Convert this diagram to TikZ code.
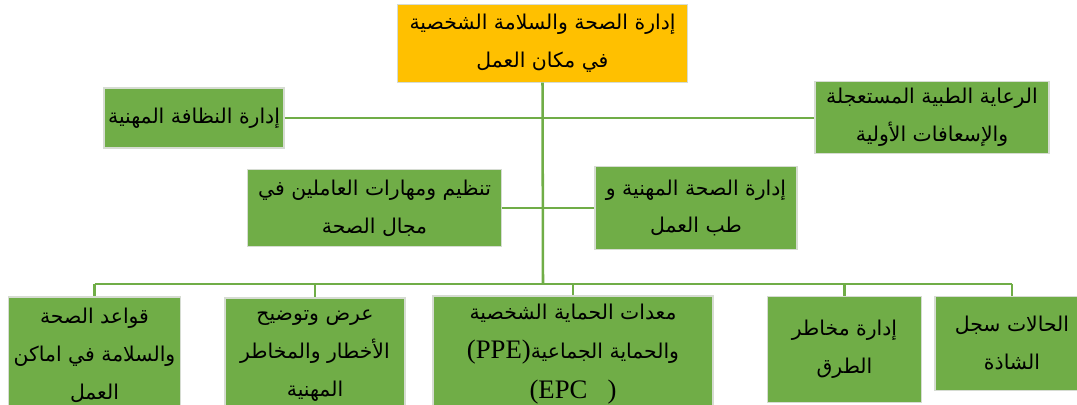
\documentclass[tikz,border=0pt]{standalone}
\usepackage{fontspec}
\setmainfont{Liberation Serif}
\newfontfamily\arabicfont[Script=Arabic]{DejaVu Sans}
\TeXXeTstate=1
\usepackage{xcolor}
\usetikzlibrary{positioning, calc}
\definecolor{boxgreen}{HTML}{70AD47}
\definecolor{boxyellow}{HTML}{FFC000}
\definecolor{edgegrey}{HTML}{D6DCD2}
\newcommand{\ar}[1]{{\arabicfont\beginR #1\endR}}
\tikzset{
  topbox/.style={rectangle, draw=edgegrey, fill=boxyellow, line width=0.6pt, inner sep=0pt, align=center, font=\fontsize{14.5}{27}\selectfont},
  greenbox/.style={rectangle, draw=edgegrey, fill=boxgreen, line width=0.8pt, inner sep=0pt, align=center, font=\fontsize{14.5}{27}\selectfont},
  link/.style={draw=boxgreen, line width=1.8pt},
}

\begin{document}
\begin{tikzpicture}[x=0.025cm, y=-0.025cm]
  \useasboundingbox (0,0) rectangle (1077,405);
  % top level
  \node[topbox, minimum width=7.23cm, minimum height=1.93cm] (top) at (542.5,43.5)
    {\ar{إدارة الصحة والسلامة الشخصية}\\\ar{في مكان العمل}};
  % second level
  \node[greenbox, minimum width=4.5cm, minimum height=1.5cm] (hyg) at (194,118)
    {\ar{إدارة النظافة المهنية}};
  \node[greenbox, minimum width=5.85cm, minimum height=1.78cm] (emerg) at (932,117.5)
    {\ar{الرعاية الطبية المستعجلة}\\\ar{والإسعافات الأولية}};
  % third level
  \node[greenbox, minimum width=6.33cm, minimum height=1.93cm] (org) at (374.5,208)
    {\ar{تنظيم ومهارات العاملين في}\\\ar{مجال الصحة}};
  \node[greenbox, minimum width=5.05cm, minimum height=2.08cm] (occ) at (696,208)
    {\ar{إدارة الصحة المهنية و}\\\ar{طب العمل}};
  % bottom row
  \node[greenbox, minimum width=4.28cm, minimum height=2.9cm] (rules) at (94.5,355)
    {\ar{قواعد الصحة}\\\ar{والسلامة في اماكن}\\\ar{العمل}};
  \node[greenbox, minimum width=4.5cm, minimum height=2.9cm] (hazard) at (315,356)
    {\ar{عرض وتوضيح}\\\ar{الأخطار والمخاطر}\\\ar{المهنية}};
  \node[greenbox, minimum width=7.0cm, minimum height=2.9cm, font=\fontsize{14.5}{28}\selectfont] (ppe) at (573,354)
    {\ar{معدات الحماية الشخصية}\\{\fontsize{19}{28}\selectfont(PPE)}\ar{والحماية الجماعية}\\{\fontsize{19}{28}\selectfont(EPC\ \ \ )}};
  \node[greenbox, minimum width=3.83cm, minimum height=2.63cm] (road) at (844.5,349.5)
    {\ar{إدارة مخاطر}\\\ar{الطرق}};
  \node[greenbox, minimum width=3.85cm, minimum height=2.33cm] (log) at (1012,343.5)
    {\ar{الحالات سجل}\\\ar{الشاذة}};
  % connectors
  \coordinate (trunk) at (543,284);
  \coordinate (barL) at (94.5,284);
  \coordinate (barR) at (1012,284);
  \draw[link] (top.south) -- (trunk);
  \draw[link] (hyg.east) -- (hyg.east -| emerg.west);
  \draw[link] (org.east) -- (org.east -| occ.west);
  \draw[link] (barL) -- (barR);
  \foreach \b in {rules, hazard, ppe, road, log}
    \draw[link] (\b.north |- barL) -- (\b.north);
\end{tikzpicture}
\end{document}
